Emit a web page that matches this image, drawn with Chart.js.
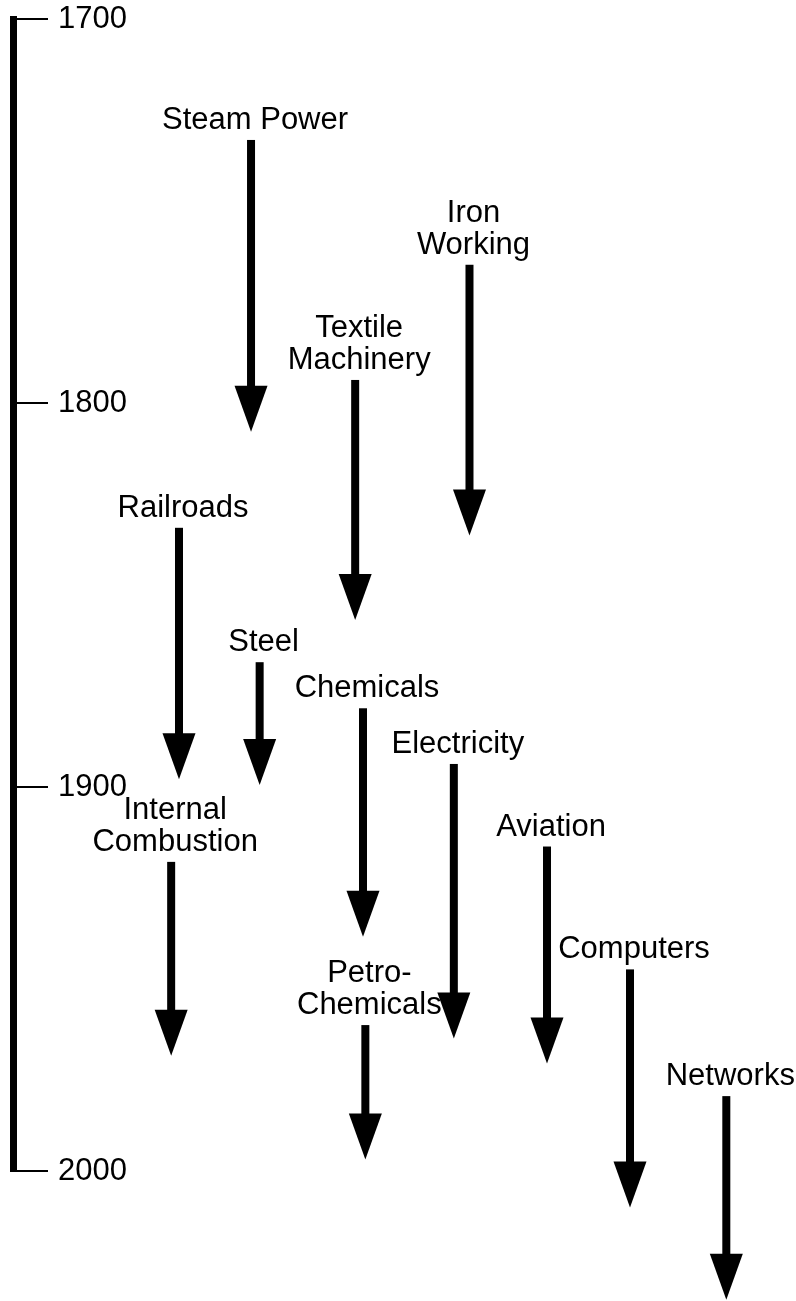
<!DOCTYPE html>
<html>
<head>
<meta charset="utf-8">
<script src="https://cdn.jsdelivr.net/npm/chart.js@4/dist/chart.umd.min.js"></script>
<style>
  html, body { margin: 0; padding: 0; background: #fff; }
  #wrap { width: 796px; height: 1301px; position: relative; }
</style>
</head>
<body>
<div id="wrap"><canvas id="c"></canvas></div>
<script>
// Technologies (label lines separated by \n)
const technologies = [
  'Steam Power', 'Iron\nWorking', 'Textile\nMachinery', 'Railroads', 'Steel',
  'Chemicals', 'Electricity', 'Aviation', 'Internal\nCombustion', 'Computers',
  'Petro-\nChemicals', 'Networks'
];
// Year where each arrow begins (top of shaft)
const startYear = [1731.5, 1764, 1794, 1832.5, 1867.5, 1879.5, 1894, 1915.5, 1919.5, 1947.5, 1962, 1980.5];
// Year where each arrow ends (arrow tip)
const endYear   = [1807.5, 1834.5, 1856.5, 1898, 1899.5, 1939, 1965.5, 1972, 1970, 2009.5, 1997, 2033.5];
// Horizontal column of each arrow (arbitrary 0-100 units)
const column    = [30.4, 58.3, 43.7, 21.2, 31.5, 44.7, 56.3, 68.2, 20.2, 78.8, 45.0, 91.1];
// Timeline tick labels
const tickYears = [1700, 1800, 1900, 2000];

const FONT = "'Liberation Sans', Arial, Helvetica, sans-serif";
Chart.defaults.font.family = FONT;
Chart.defaults.color = '#000';

const datasets = technologies.map((name, i) => ({
  label: name.replace('\n', ' '),
  data: [{x: column[i], y: startYear[i]}, {x: column[i], y: endYear[i]}],
  showLine: false,
  pointRadius: 0,
  pointHoverRadius: 0,
  clip: false
}));

const arrowPlugin = {
  id: 'arrows',
  afterDatasetsDraw(chart) {
    const ctx = chart.ctx;
    const shaftW = 8, headW = 33, headH = 46;
    ctx.save();
    ctx.fillStyle = '#000';
    chart.data.datasets.forEach((ds, i) => {
      const meta = chart.getDatasetMeta(i);
      const p0 = meta.data[0], p1 = meta.data[1];
      const x = p0.x, yTop = p0.y, yTip = p1.y;
      ctx.fillRect(x - shaftW / 2, yTop, shaftW, (yTip - headH + 1) - yTop);
      ctx.beginPath();
      ctx.moveTo(x - headW / 2, yTip - headH);
      ctx.lineTo(x + headW / 2, yTip - headH);
      ctx.lineTo(x, yTip);
      ctx.closePath();
      ctx.fill();
      ctx.font = '31px ' + FONT;
      ctx.textAlign = 'center';
      ctx.textBaseline = 'alphabetic';
      const lines = technologies[i].split('\n');
      lines.forEach((ln, j) => {
        ctx.fillText(ln, x + 4, yTop - 11 - (lines.length - 1 - j) * 32);
      });
    });
    ctx.restore();
  }
};

new Chart(document.getElementById('c'), {
  type: 'scatter',
  data: { datasets },
  options: {
    responsive: true,
    maintainAspectRatio: false,
    animation: false,
    events: [],
    layout: { padding: { top: 19, bottom: 130, left: 0, right: 0 } },
    plugins: { legend: { display: false }, tooltip: { enabled: false } },
    scales: {
      x: { type: 'linear', min: 0, max: 100, display: false },
      y: {
        type: 'linear',
        position: 'left',
        reverse: true,
        min: tickYears[0],
        max: tickYears[tickYears.length - 1],
        afterBuildTicks: (s) => { s.ticks = tickYears.map(v => ({ value: v })); },
        afterFit: (s) => { s.width = 13; s.paddingTop = 0; s.paddingBottom = 0; },
        border: { display: true, width: 7, color: '#000' },
        grid: { drawOnChartArea: false, drawTicks: true, tickLength: -35, lineWidth: 2, color: '#000' },
        ticks: {
          mirror: true,
          padding: 45,
          color: '#000',
          font: { size: 31, family: FONT },
          callback: (v) => String(v)
        }
      }
    }
  },
  plugins: [arrowPlugin]
});
</script>
</body>
</html>
